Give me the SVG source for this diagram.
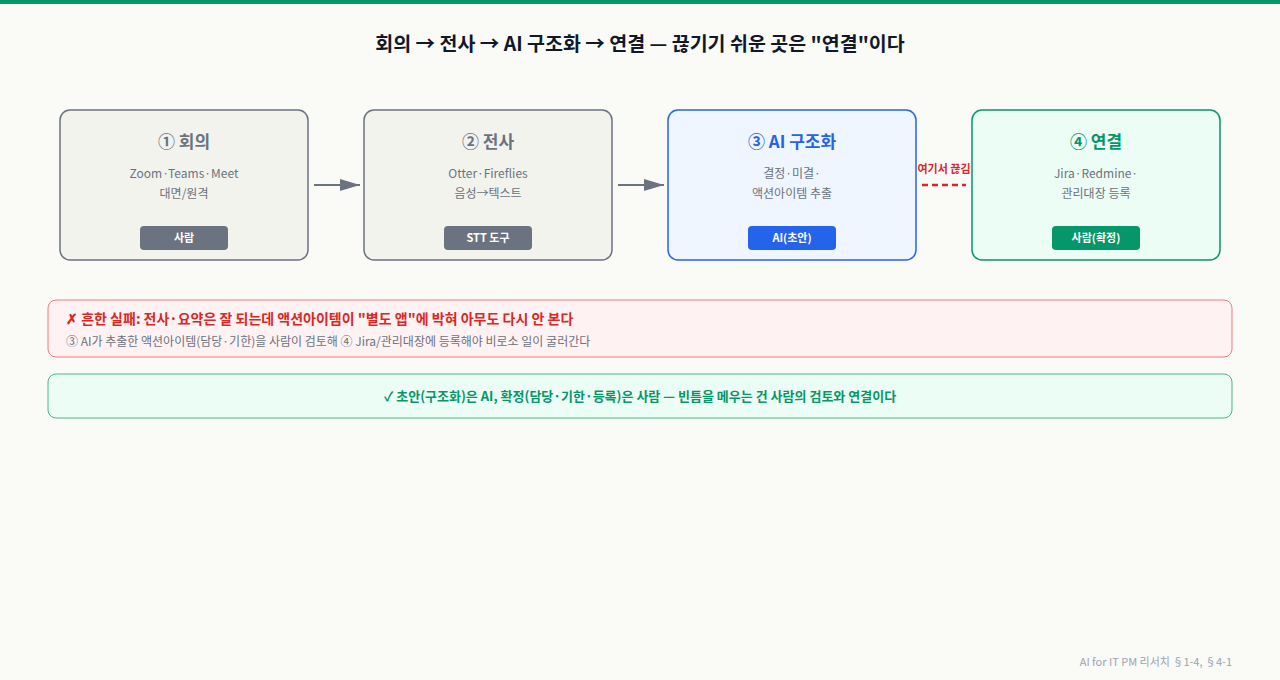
<svg xmlns="http://www.w3.org/2000/svg" width="1280" height="680" viewBox="0 0 1280 680">
<style>
text{font-family:"Noto Sans CJK KR","Noto Sans",sans-serif;text-anchor:middle}
.t{font-size:17px;font-weight:700}
.s{font-size:12px;fill:#6b7280}
.b{font-size:11px;font-weight:700;fill:#fff}
</style>
<defs>
<marker id="a2" viewBox="0 0 20 12" markerWidth="20" markerHeight="12" refX="20" refY="6" orient="auto" markerUnits="userSpaceOnUse"><path d="M0,0L20,6L0,12z" fill="#6b7280"/></marker></defs>
<rect width="1280" height="680" fill="#fafaf7"/>
<rect width="1280" height="4" fill="#059669"/>
<text x="640" y="51" style="font-size:19.5px;font-weight:700" fill="#111827">회의 → 전사 → AI 구조화 → 연결 — 끊기기 쉬운 곳은 "연결"이다</text>
<g id="n1"><rect x="60" y="110" width="248" height="150" rx="10" fill="#f3f3ee" stroke="#6b7280" stroke-width="1.5"/>
<text x="184" y="148" class="t" fill="#6b7280">① 회의</text>
<text x="184" y="178" class="s">Zoom·Teams·Meet</text><text x="184" y="198" class="s">대면/원격</text>
<rect x="140" y="226" width="88" height="24" rx="4" fill="#6b7280"/><text x="184" y="242" class="b">사람</text></g>
<g id="n2"><rect x="364" y="110" width="248" height="150" rx="10" fill="#f3f3ee" stroke="#6b7280" stroke-width="1.5"/>
<text x="488" y="148" class="t" fill="#6b7280">② 전사</text>
<text x="488" y="178" class="s">Otter·Fireflies</text><text x="488" y="198" class="s">음성→텍스트</text>
<rect x="444" y="226" width="88" height="24" rx="4" fill="#6b7280"/><text x="488" y="242" class="b">STT 도구</text></g>
<g id="n3"><rect x="668" y="110" width="248" height="150" rx="10" fill="#eff6ff" stroke="#2563eb" stroke-width="1.5"/>
<text x="792" y="148" class="t" fill="#2563eb">③ AI 구조화</text>
<text x="792" y="178" class="s">결정·미결·</text><text x="792" y="198" class="s">액션아이템 추출</text>
<rect x="748" y="226" width="88" height="24" rx="4" fill="#2563eb"/><text x="792" y="242" class="b">AI(초안)</text></g>
<g id="n4"><rect x="972" y="110" width="248" height="150" rx="10" fill="#ecfdf5" stroke="#059669" stroke-width="1.5"/>
<text x="1096" y="148" class="t" fill="#059669">④ 연결</text>
<text x="1096" y="178" class="s">Jira·Redmine·</text><text x="1096" y="198" class="s">관리대장 등록</text>
<rect x="1052" y="226" width="88" height="24" rx="4" fill="#059669"/><text x="1096" y="242" class="b">사람(확정)</text></g>
<g id="connectors">
<line x1="314" y1="185" x2="360" y2="185" stroke="#6b7280" stroke-width="2" marker-end="url(#a2)"/>
<line x1="618" y1="185" x2="664" y2="185" stroke="#6b7280" stroke-width="2" marker-end="url(#a2)"/>
<line x1="922" y1="185" x2="966" y2="185" stroke="#dc2626" stroke-width="2.5" stroke-dasharray="6 4"/>
<text x="944" y="173" style="font-size:11px;font-weight:700" fill="#dc2626">여기서 끊김</text>
</g>
<g id="warn"><rect x="48" y="300" width="1184" height="57" rx="8" fill="#fef2f2" stroke="#ef4444" stroke-opacity="0.7"/>
<text x="66" y="324" style="font-size:14px;font-weight:700;text-anchor:start" fill="#dc2626">✗ 흔한 실패: 전사·요약은 잘 되는데 액션아이템이 "별도 앱"에 박혀 아무도 다시 안 본다</text>
<text x="66" y="346" style="font-size:12px;text-anchor:start" fill="#6b7280">③ AI가 추출한 액션아이템(담당·기한)을 사람이 검토해 ④ Jira/관리대장에 등록해야 비로소 일이 굴러간다</text></g>
<g id="ok"><rect x="48" y="374" width="1184" height="44" rx="8" fill="#ecfdf5" stroke="#059669" stroke-opacity="0.7"/>
<text x="640" y="401" style="font-size:13px;font-weight:700" fill="#059669">✓ 초안(구조화)은 AI, 확정(담당·기한·등록)은 사람 — 빈틈을 메우는 건 사람의 검토와 연결이다</text></g>
<text x="1232" y="666" style="font-size:11px;text-anchor:end" fill="#9ca3af">AI for IT PM 리서치 §1-4, §4-1</text>
</svg>
